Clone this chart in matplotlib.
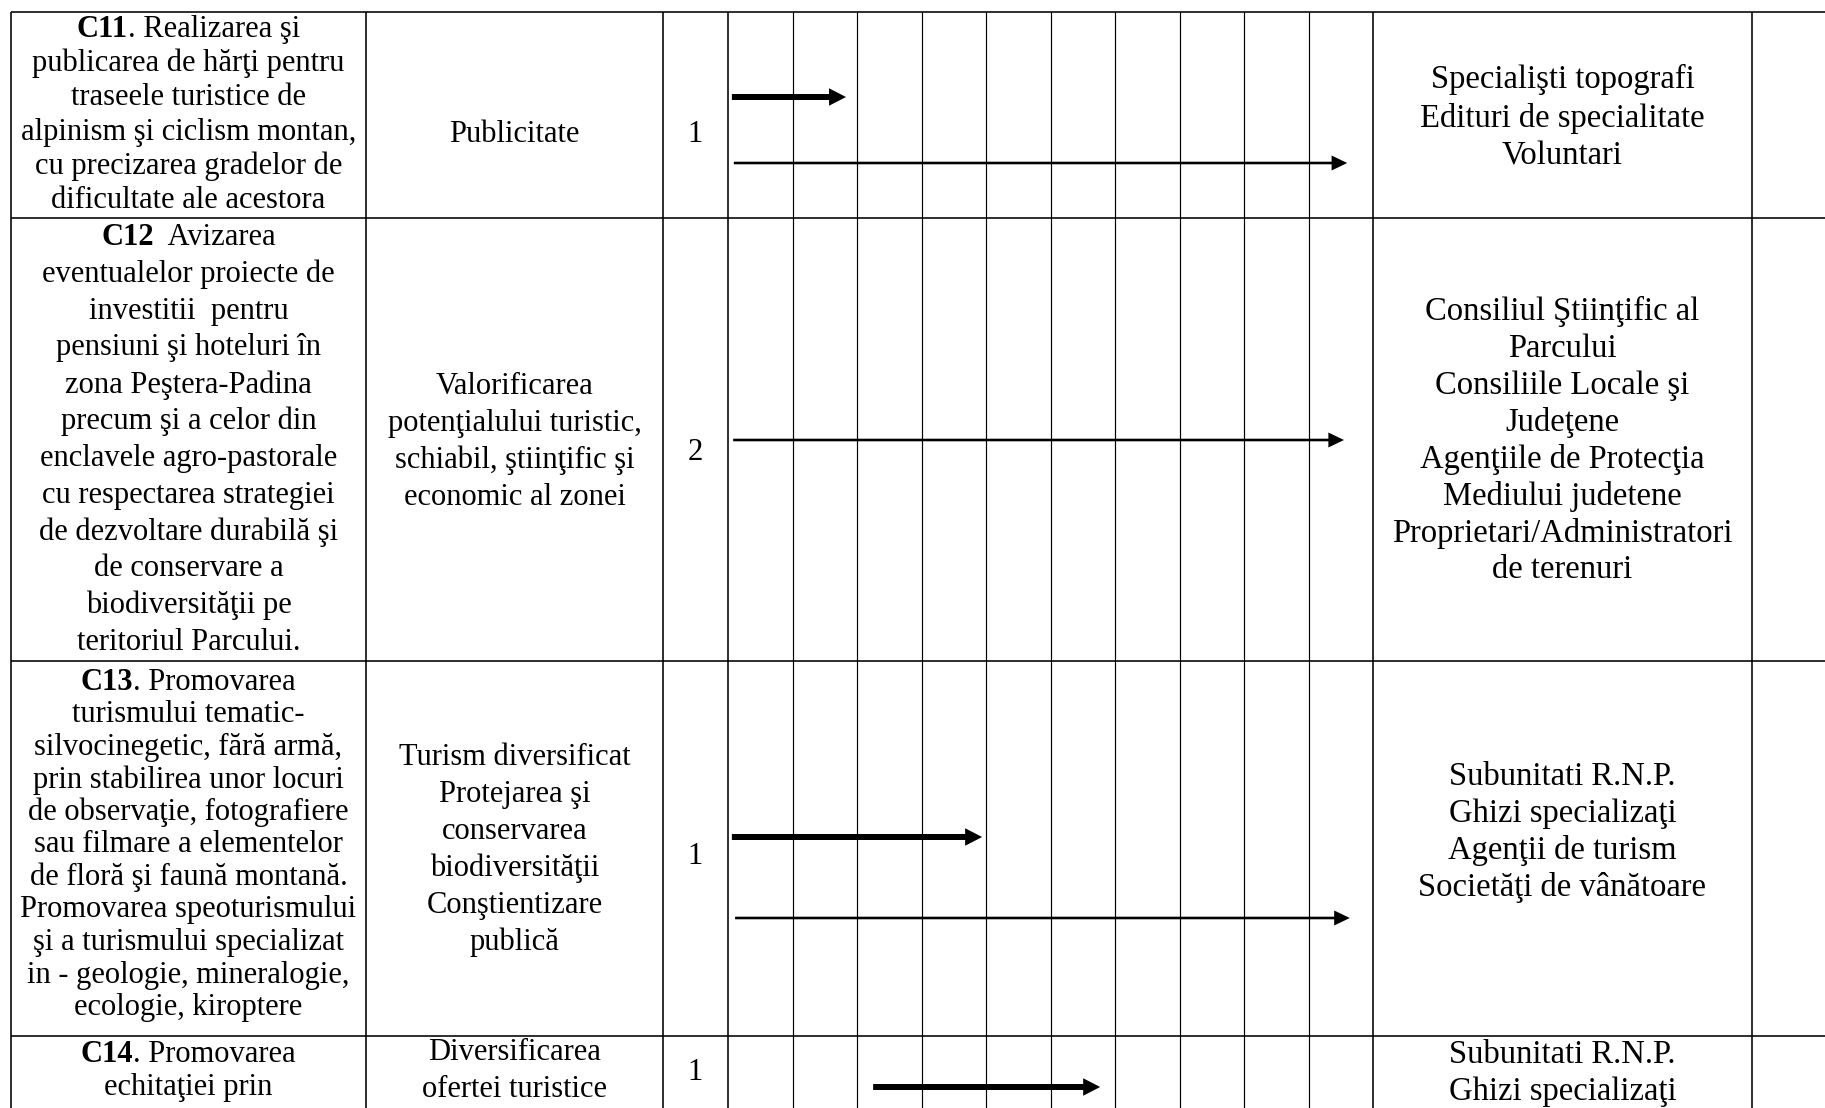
import matplotlib.pyplot as plt

# fonts: Times-like serif, as in the original document
plt.rcParams['font.family'] = ['Liberation Serif', 'DejaVu Serif']

# ---- table content ----
codes = ["C11", "C12", "C13", "C14"]
activity_text = [
    ". Realizarea şi\npublicarea de hărţi pentru\ntraseele turistice de\nalpinism şi ciclism montan,\ncu precizarea gradelor de\ndificultate ale acestora",
    "  Avizarea\neventualelor proiecte de\ninvestitii  pentru\npensiuni şi hoteluri în\nzona Peştera-Padina\nprecum şi a celor din\nenclavele agro-pastorale\ncu respectarea strategiei\nde dezvoltare durabilă şi\nde conservare a\nbiodiversităţii pe\nteritoriul Parcului.",
    ". Promovarea\nturismului tematic-\nsilvocinegetic, fără armă,\nprin stabilirea unor locuri\nde observaţie, fotografiere\nsau filmare a elementelor\nde floră şi faună montană.\nPromovarea speoturismului\nşi a turismului specializat\nin - geologie, mineralogie,\necologie, kiroptere",
    ". Promovarea\nechitaţiei prin",
]
effects = [
    "Publicitate",
    "Valorificarea\npotenţialului turistic,\nschiabil, ştiinţific şi\neconomic al zonei",
    "Turism diversificat\nProtejarea şi\nconservarea\nbiodiversităţii\nConştientizare\npublică",
    "Diversificarea\nofertei turistice",
]
priority = ["1", "2", "1", "1"]
partners = [
    "Specialişti topografi\nEdituri de specialitate\nVoluntari",
    "Consiliul Ştiinţific al\nParcului\nConsiliile Locale şi\nJudeţene\nAgenţiile de Protecţia\nMediului judetene\nProprietari/Administratori\nde terenuri",
    "Subunitati R.N.P.\nGhizi specializaţi\nAgenţii de turism\nSocietăţi de vânătoare",
    "Subunitati R.N.P.\nGhizi specializaţi",
]

# timeline arrows (row index, start / end in timeline columns)
n_periods = 10
arrow_row = [0, 0, 1, 2, 2, 3]
arrow_start = [0.06, 0.09, 0.08, 0.06, 0.11, 2.25]
arrow_end = [1.83, 9.60, 9.55, 3.94, 9.64, 5.77]
arrow_bold = [True, False, False, True, False, True]

# ---- layout (pixels) ----
W, H = 1825, 1108
col_x = [11, 366, 663, 728, 1373, 1752]
row_y = [12, 218, 661, 1036]
arrow_y = [97, 163, 440, 837, 918, 1087]

left_center = [115, 440, 845, 1071]
left_spacing = [34.3, 36.8, 32.5, 32]
mid_center = [135, 442, 850, 1071]
mid_spacing = 37
num_y = [135, 453, 857, 1072]
right_center = [118, 441, 832, 1073]
right_spacing = [38.5, 36.9, 36.7, 37]

fs_left = 22
fs_right = 23.5

fig = plt.figure(figsize=(W / 100, H / 100), dpi=100)
ax = fig.add_axes([0, 0, 1, 1])
ax.set_xlim(0, W)
ax.set_ylim(H, 0)
ax.axis('off')

# table lines
lw_main = 1.15
ax.hlines(row_y, col_x[0], W, color='black', lw=lw_main)
ax.vlines(col_x, row_y[0], H, color='black', lw=lw_main)

# timeline axes over the period columns
axt = fig.add_axes([col_x[3] / W, 0, (col_x[4] - col_x[3]) / W, 1])
axt.set_xlim(0, n_periods)
axt.set_ylim(H, 0)
axt.axis('off')
axt.vlines(range(1, n_periods), row_y[0], H, color='black', lw=0.85)

px = n_periods / (col_x[4] - col_x[3])  # one pixel in timeline units
for r, x0, x1, bold, y in zip(arrow_row, arrow_start, arrow_end, arrow_bold, arrow_y):
    if bold:
        axt.arrow(x0, y, x1 - x0, 0, width=6, head_width=17.5, head_length=17 * px,
                  length_includes_head=True, fc='black', ec='none')
    else:
        axt.arrow(x0, y, x1 - x0, 0, width=2.6, head_width=15, head_length=15.6 * px,
                  length_includes_head=True, fc='black', ec='none')


def block(text, cx, cy, spacing, size):
    lines = text.split("\n")
    n = len(lines)
    out = []
    for i, line in enumerate(lines):
        y = cy + (i - (n - 1) / 2) * spacing
        out.append(ax.text(cx, y, line, ha='center', va='center', fontsize=size))
    return out


renderer = fig.canvas.get_renderer()
cx_left = (col_x[0] + col_x[1]) / 2
cx_mid = (col_x[1] + col_x[2]) / 2
cx_num = (col_x[2] + col_x[3]) / 2
cx_right = (col_x[4] + col_x[5]) / 2

for i in range(len(codes)):
    texts = block(activity_text[i], cx_left, left_center[i], left_spacing[i], fs_left)
    # first line: bold code followed by normal text
    first = texts[0]
    y = first.get_position()[1]
    tb = ax.text(0, y, codes[i], ha='left', va='center', fontsize=fs_left, fontweight='bold')
    first.set_ha('left')
    wb = tb.get_window_extent(renderer).width
    wn = first.get_window_extent(renderer).width
    x0 = cx_left - (wb + wn) / 2
    tb.set_x(x0)
    first.set_x(x0 + wb)

    block(effects[i], cx_mid, mid_center[i], mid_spacing, fs_left)
    ax.text(cx_num, num_y[i], priority[i], ha='center', va='center', fontsize=fs_left)
    block(partners[i], cx_right, right_center[i], right_spacing[i], fs_right)

fig.savefig("out.png", dpi=100, facecolor='white')
